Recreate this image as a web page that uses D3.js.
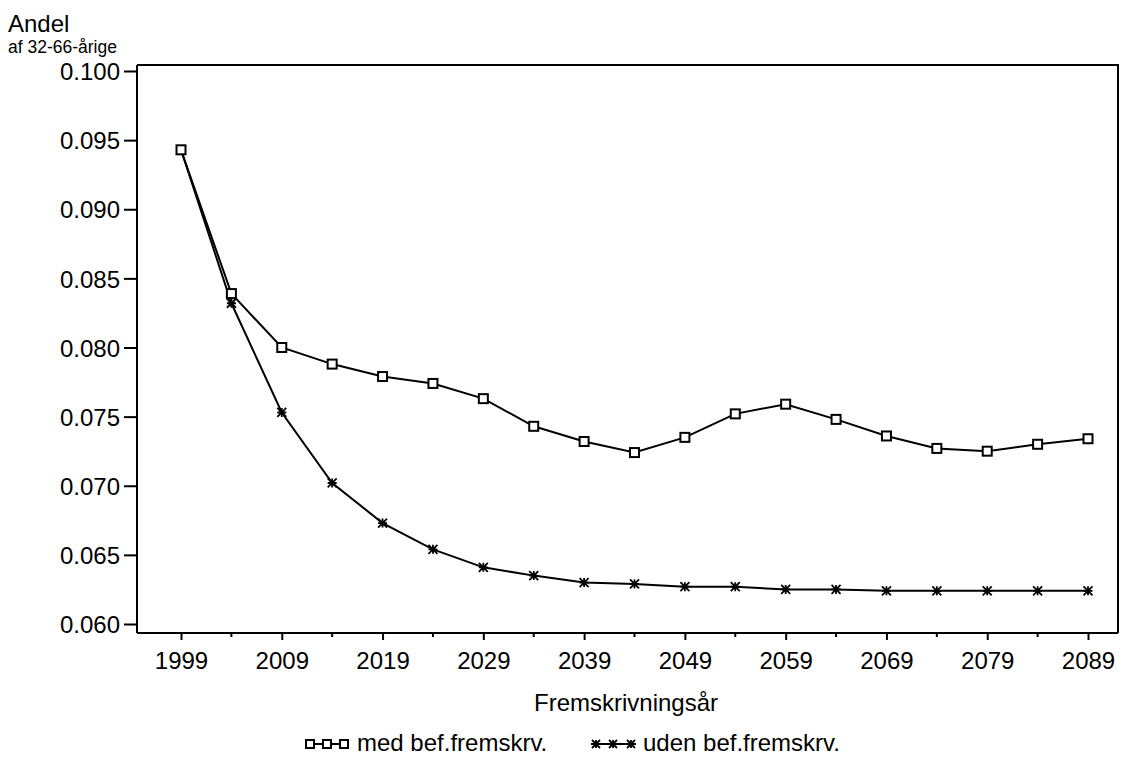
<!DOCTYPE html>
<html>
<head>
<meta charset="utf-8">
<script src="https://cdn.jsdelivr.net/npm/d3@7"></script>
<style>
  html, body { margin: 0; padding: 0; background: #fff; }
  svg { display: block; font-family: "Liberation Sans", Arial, sans-serif; }
</style>
</head>
<body>
<svg id="chart" width="1121" height="757"></svg>
<script>
// ---- data ----
const years = [1999, 2004, 2009, 2014, 2019, 2024, 2029, 2034, 2039, 2044, 2049, 2054, 2059, 2064, 2069, 2074, 2079, 2084, 2089];
const medValues = [0.0943, 0.0839, 0.0800, 0.0788, 0.0779, 0.0774, 0.0763, 0.0743, 0.0732, 0.0724, 0.0735, 0.0752, 0.0759, 0.0748, 0.0736, 0.0727, 0.0725, 0.0730, 0.0734];
const udenValues = [0.0943, 0.0832, 0.0753, 0.0702, 0.0673, 0.0654, 0.0641, 0.0635, 0.0630, 0.0629, 0.0627, 0.0627, 0.0625, 0.0625, 0.0624, 0.0624, 0.0624, 0.0624, 0.0624];
const xTickLabels = [1999, 2009, 2019, 2029, 2039, 2049, 2059, 2069, 2079, 2089];
const xMinorTicks = [2004, 2014, 2024, 2034, 2044, 2054, 2064, 2074, 2084];
const yTickLabels = [0.060, 0.065, 0.070, 0.075, 0.080, 0.085, 0.090, 0.095, 0.100];
const seriesNames = ["med bef.fremskrv.", "uden bef.fremskrv."];
const yTitle = "Andel";
const ySubtitle = "af 32-66-årige";
const xTitle = "Fremskrivningsår";

// ---- layout ----
const svg = d3.select("#chart");
const frame = { left: 137, top: 65, right: 1118, bottom: 633 };
const x = d3.scaleLinear().domain([1999, 2089]).range([181, 1088]);
const y = d3.scaleLinear().domain([0.060, 0.100]).range([624, 71]);
const FS = 24;

svg.append("rect").attr("width", 1121).attr("height", 757).attr("fill", "#fff");

// frame (top and right borders)
svg.append("path")
  .attr("d", `M${frame.left},${frame.top}H${frame.right}V${frame.bottom}`)
  .attr("fill", "none").attr("stroke", "#000").attr("stroke-width", 2);

// y axis
const yAxis = d3.axisLeft(y).tickValues(yTickLabels).tickFormat(d3.format(".3f")).tickSize(13).tickPadding(4);
const gy = svg.append("g").attr("transform", `translate(${frame.left},0)`).call(yAxis);
gy.select(".domain").remove();
gy.append("line").attr("x1", 0).attr("x2", 0).attr("y1", frame.top).attr("y2", frame.bottom)
  .attr("stroke", "#000").attr("stroke-width", 2);
gy.selectAll(".tick line").attr("stroke", "#000").attr("stroke-width", 2);
gy.selectAll(".tick text").attr("font-size", FS).attr("fill", "#000").attr("dy", "0.36em")
  .attr("font-family", "'Liberation Sans', Arial, sans-serif");

// x axis
const xAxis = d3.axisBottom(x).tickValues(xTickLabels).tickFormat(d3.format("d")).tickSize(7).tickPadding(12);
const gx = svg.append("g").attr("transform", `translate(0,${frame.bottom})`).call(xAxis);
gx.select(".domain").remove();
gx.append("line").attr("x1", frame.left).attr("x2", frame.right).attr("y1", 0).attr("y2", 0)
  .attr("stroke", "#000").attr("stroke-width", 2);
gx.selectAll(".tick line").attr("stroke", "#000").attr("stroke-width", 2);
gx.selectAll(".tick text").attr("font-size", FS).attr("fill", "#000")
  .attr("font-family", "'Liberation Sans', Arial, sans-serif");
gx.selectAll(".minor").data(xMinorTicks).enter().append("line")
  .attr("x1", d => x(d)).attr("x2", d => x(d)).attr("y1", 0).attr("y2", 4)
  .attr("stroke", "#000").attr("stroke-width", 2);

// titles
svg.append("text").attr("x", 8).attr("y", 32).attr("font-size", FS).text(yTitle);
svg.append("text").attr("x", 8).attr("y", 53).attr("font-size", 17.5).text(ySubtitle);
svg.append("text").attr("x", 626).attr("y", 711).attr("font-size", FS).attr("text-anchor", "middle").text(xTitle);

// marker shapes
function square(g, cx, cy, s) {
  g.append("rect").attr("x", cx - s / 2).attr("y", cy - s / 2).attr("width", s).attr("height", s)
    .attr("fill", "#fff").attr("stroke", "#000").attr("stroke-width", 2);
}
function star(g, cx, cy, s) {
  const r = s / 2;
  g.append("path")
    .attr("d", `M${cx},${cy - r}V${cy + r}M${cx - r},${cy - r}L${cx + r},${cy + r}M${cx + r},${cy - r}L${cx - r},${cy + r}M${cx - r},${cy}H${cx + r}`)
    .attr("fill", "none").attr("stroke", "#000").attr("stroke-width", 1.8);
}

const line = d3.line().x(d => x(d[0])).y(d => y(d[1])).curve(d3.curveLinear);
const medData = years.map((yr, i) => [yr, medValues[i]]);
const udenData = years.map((yr, i) => [yr, udenValues[i]]);

svg.append("path").datum(udenData).attr("d", line).attr("fill", "none").attr("stroke", "#000").attr("stroke-width", 2);
svg.append("path").datum(medData).attr("d", line).attr("fill", "none").attr("stroke", "#000").attr("stroke-width", 2);

const gm = svg.append("g");
udenData.forEach(d => star(gm, x(d[0]), y(d[1]), 9));
medData.forEach(d => square(gm, x(d[0]), y(d[1]), 9));

// legend
const lg = svg.append("g");
const ly = 744;
lg.append("line").attr("x1", 305).attr("x2", 349).attr("y1", ly).attr("y2", ly).attr("stroke", "#000").attr("stroke-width", 2);
[310, 327, 344].forEach(cx => square(lg, cx, ly, 8));
lg.append("text").attr("x", 357).attr("y", 751).attr("font-size", FS).text(seriesNames[0]);
lg.append("line").attr("x1", 591).attr("x2", 636).attr("y1", ly).attr("y2", ly).attr("stroke", "#000").attr("stroke-width", 2);
[596, 613, 631].forEach(cx => star(lg, cx, ly, 8));
lg.append("text").attr("x", 643).attr("y", 751).attr("font-size", FS).text(seriesNames[1]);
</script>
</body>
</html>
